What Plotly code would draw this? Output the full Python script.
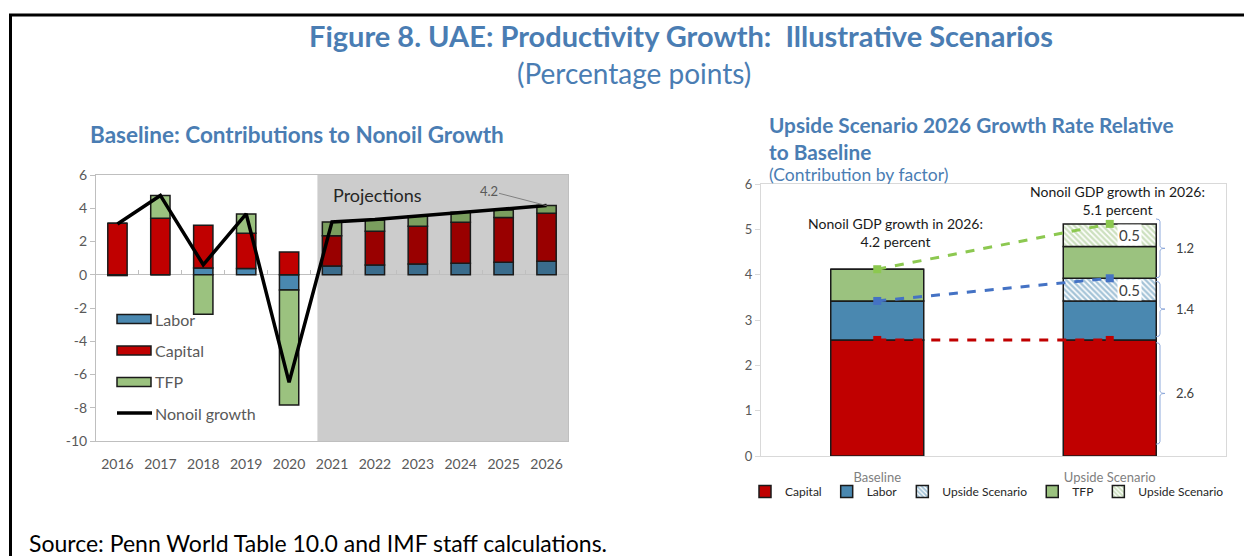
import plotly.graph_objects as go

W, H = 1244, 556

# ---------------- data ----------------
years = ["2016", "2017", "2018", "2019", "2020", "2021", "2022", "2023", "2024", "2025", "2026"]
labor = [-0.05, 0.0, 0.40, 0.37, -0.92, 0.53, 0.59, 0.65, 0.69, 0.75, 0.81]
capital = [3.10, 3.40, 2.57, 2.13, 1.37, 1.81, 2.03, 2.27, 2.47, 2.69, 2.89]
tfp = [0.0, 1.37, -2.38, 1.16, -6.92, 0.84, 0.68, 0.62, 0.60, 0.46, 0.46]
nonoil = [3.05, 4.77, 0.60, 3.66, -6.47, 3.18, 3.33, 3.54, 3.76, 3.93, 4.16]
n_hist = 5
last_label = "4.2"
left_ticks = [-10, -8, -6, -4, -2, 0, 2, 4, 6]

scen_cats = ["Baseline", "Upside Scenario"]
sc_capital = [2.56, 2.56]
sc_labor = [0.86, 0.86]
sc_labor_up = [0.0, 0.5]
sc_tfp = [0.70, 0.70]
sc_tfp_up = [0.0, 0.5]
total_labels = ["4.2 percent", "5.1 percent"]
bracket_labels = ["2.6", "1.4", "1.2"]
up_labels = ["0.5", "0.5"]

# ---------------- styles ----------------
FONT = "Lato"
BLUE_T = "#4A7DB3"
GRAYTXT = "#595959"
C_RED, C_RED_P = "#C00000", "#990000"
C_BLU, C_BLU_P = "#4A88B0", "#3A6C8C"
C_GRN, C_GRN_P = "#9BC27F", "#7A9E5E"
OUT = "#1A1A1A"


def px(x):
    return x / W


def py(y):
    return 1 - y / H


fig = go.Figure()

hist_proj = lambda a, b: [a] * n_hist + [b] * (len(years) - n_hist)

# left chart bars
for name, vals, ch, cp in [("Labor", labor, C_BLU, C_BLU_P),
                           ("Capital", capital, C_RED, C_RED_P),
                           ("TFP", tfp, C_GRN, C_GRN_P)]:
    fig.add_trace(go.Bar(x=years, y=vals, name=name, width=0.45,
                         marker=dict(color=hist_proj(ch, cp), line=dict(color=OUT, width=1.5)),
                         xaxis="x", yaxis="y", showlegend=False))
fig.add_trace(go.Scatter(x=years, y=nonoil, mode="lines", name="Nonoil growth",
                         line=dict(color="black", width=3.5), xaxis="x", yaxis="y",
                         showlegend=False))

# right chart bars
pat = lambda c: dict(shape="\\", fgcolor=c, size=4, solidity=0.6)
right_specs = [
    ("Capital", sc_capital, dict(color=C_RED)),
    ("Labor", sc_labor, dict(color=C_BLU)),
    ("Upside Scenario", sc_labor_up, dict(color="white", pattern=pat(C_BLU))),
    ("TFP", sc_tfp, dict(color=C_GRN)),
    ("Upside Scenario", sc_tfp_up, dict(color="white", pattern=pat(C_GRN))),
]
for name, vals, mk in right_specs:
    mk = dict(mk)
    mk["line"] = dict(color=OUT, width=1.5)
    fig.add_trace(go.Bar(x=scen_cats, y=vals, name=name, width=0.4, marker=mk,
                         xaxis="x2", yaxis="y2", legend="legend2", showlegend=True))

# dashed connector lines
cum_cap = sc_capital
cum_lab = [a + b + c for a, b, c in zip(sc_capital, sc_labor, sc_labor_up)]
cum_tot = [a + b + c for a, b, c in zip(cum_lab, sc_tfp, sc_tfp_up)]
for yv, col in [(cum_cap, "#C00000"), (cum_lab, "#4472C4"), (cum_tot, "#8CC850")]:
    fig.add_trace(go.Scatter(x=scen_cats, y=[yv[0], yv[1]], mode="lines+markers",
                             line=dict(color=col, width=3, dash="dash"),
                             marker=dict(symbol="square", size=8, color=col),
                             xaxis="x2", yaxis="y2", showlegend=False))

# invisible helper so the zero-line tick axis is drawn
fig.add_trace(go.Scatter(x=[0], y=[0], xaxis="x3", yaxis="y", mode="markers",
                         marker=dict(opacity=0), showlegend=False, hoverinfo="skip"))

L0, L1, LT, LB = 96, 568, 175, 441
R0, R1, RT, RB = 761, 1226, 184, 456
zero_px = LT + (LB - LT) * 6 / 16

fig.update_layout(
    width=W, height=H, margin=dict(l=0, r=0, t=0, b=0, autoexpand=False),
    paper_bgcolor="white", plot_bgcolor="white",
    barmode="relative", font=dict(family=FONT, color=GRAYTXT),
    xaxis=dict(domain=[px(L0), px(L1)], type="category", range=[-0.5, 10.5],
               showline=True, mirror=True, linecolor="#BFBFBF", linewidth=1,
               ticks="", tickfont=dict(size=14, color=GRAYTXT), ticklabelstandoff=10,
               showgrid=False, fixedrange=True),
    yaxis=dict(domain=[py(LB), py(LT)], range=[-10, 6],
               tickvals=left_ticks, ticktext=[str(v) for v in left_ticks],
               showline=True, mirror=True, linecolor="#BFBFBF", linewidth=1,
               ticks="outside", ticklen=5, tickcolor="#BFBFBF",
               tickfont=dict(size=14, color=GRAYTXT), showgrid=False,
               zeroline=True, zerolinecolor="#BFBFBF", zerolinewidth=1),
    xaxis3=dict(overlaying="x", anchor="free", position=py(zero_px), range=[-0.5, 10.5],
                tickvals=[i + 0.5 for i in range(10)], ticks="inside", ticklen=5,
                tickcolor="#BFBFBF", showticklabels=False, showline=False, showgrid=False,
                zeroline=False),
    xaxis2=dict(domain=[px(R0), px(R1)], type="category", anchor="y2",
                showline=True, mirror=True, linecolor="#D9D9D9", linewidth=1,
                ticks="", tickfont=dict(size=13, color="#7F7F7F"), ticklabelstandoff=9,
                showgrid=False),
    yaxis2=dict(domain=[py(RB), py(RT)], anchor="x2", range=[0, 6], dtick=1,
                showline=True, mirror=True, linecolor="#D9D9D9", linewidth=1,
                ticks="outside", ticklen=5, tickcolor="#D9D9D9",
                tickfont=dict(size=13, color=GRAYTXT), showgrid=False, zeroline=False),
    legend2=dict(orientation="h", x=px(745), y=py(477), xanchor="left", yanchor="top",
                 font=dict(size=12, color="#262626"), traceorder="normal",
                 itemwidth=30, bgcolor="rgba(0,0,0,0)"),
    showlegend=True,
)

shapes = []
annotations = []

# border of figure
shapes.append(dict(type="line", xref="paper", yref="paper", x0=px(9), x1=1.01, y0=py(15), y1=py(15),
                   line=dict(color="black", width=3)))
shapes.append(dict(type="line", xref="paper", yref="paper", x0=px(10.5), x1=px(10.5), y0=py(15), y1=-0.01,
                   line=dict(color="black", width=3)))

# projection shading
shapes.append(dict(type="rect", xref="x", yref="y domain", x0=4.66, x1=10.5, y0=0, y1=1,
                   fillcolor="#CCCCCC", line=dict(width=0), layer="below"))

# left manual legend
leg_items = [("Labor", C_BLU), ("Capital", C_RED), ("TFP", C_GRN)]
leg_y = [319, 350.5, 382]
for (lab, col), yy in zip(leg_items, leg_y):
    shapes.append(dict(type="rect", xref="paper", yref="paper", x0=px(117), x1=px(151),
                       y0=py(yy + 4.5), y1=py(yy - 4.5), fillcolor=col,
                       line=dict(color=OUT, width=1.5)))
    annotations.append(dict(text=lab, x=px(153), y=py(yy), xref="paper", yref="paper",
                            xanchor="left", yanchor="middle", showarrow=False,
                            font=dict(size=16, color=GRAYTXT)))
shapes.append(dict(type="line", xref="paper", yref="paper", x0=px(117), x1=px(152),
                   y0=py(413), y1=py(413), line=dict(color="black", width=3.5)))
annotations.append(dict(text="Nonoil growth", x=px(153), y=py(413), xref="paper", yref="paper",
                        xanchor="left", yanchor="middle", showarrow=False,
                        font=dict(size=16, color=GRAYTXT)))

# Projections label and 4.2 label
annotations.append(dict(text="Projections", x=px(331), y=py(195), xref="paper", yref="paper",
                        xanchor="left", yanchor="middle", showarrow=False,
                        font=dict(size=18, color="#262626")))
annotations.append(dict(text=last_label, x=len(years) - 1, y=nonoil[-1], xref="x", yref="y",
                        ax=-58, ay=-15, axref="pixel", ayref="pixel", showarrow=True, arrowhead=0,
                        arrowwidth=1, arrowcolor="#808080", font=dict(size=13, color=GRAYTXT)))

# right chart annotations
annotations.append(dict(text="Nonoil GDP growth in 2026:<br>" + total_labels[0], x=px(895), y=py(232),
                        xref="paper", yref="paper", xanchor="center", yanchor="middle",
                        showarrow=False, align="center", font=dict(size=14, color="#1A1A1A")))
annotations.append(dict(text="Nonoil GDP growth in 2026:<br>" + total_labels[1], x=px(1117), y=py(201),
                        xref="paper", yref="paper", xanchor="center", yanchor="middle",
                        showarrow=False, align="center", font=dict(size=14, color="#1A1A1A")))
for lab, yv in [(up_labels[0], cum_lab[1] - sc_labor_up[1] / 2), (up_labels[1], cum_tot[1] - sc_tfp_up[1] / 2)]:
    annotations.append(dict(text=lab, x=1, y=yv, xref="x2", yref="y2", xshift=20,
                            xanchor="center", yanchor="middle", showarrow=False, bgcolor="white",
                            borderpad=1, font=dict(size=15, color="#404040")))

# braces
spans = [(0.26, cum_cap[1] - 0.06), (cum_cap[1] + 0.07, cum_lab[1] - 0.07), (cum_lab[1] + 0.01, cum_tot[1] + 0.11)]
xb, xt, xh = px(1160), px(1165), px(1156)
for (y0, y1), lab in zip(spans, bracket_labels):
    m = (y0 + y1) / 2
    d = 0.06
    path = (f"M {xh},{y1} Q {xb},{y1} {xb},{y1 - d} L {xb},{m + d} Q {xb},{m} {xt},{m} "
            f"Q {xb},{m} {xb},{m - d} L {xb},{y0 + d} Q {xb},{y0} {xh},{y0}")
    shapes.append(dict(type="path", xref="paper", yref="y2", path=path,
                       line=dict(color="#8EA9DB", width=1)))
    annotations.append(dict(text=lab, x=px(1185), y=m, xref="paper", yref="y2",
                            xanchor="center", yanchor="middle",
                            showarrow=False, font=dict(size=13, color="#404040")))


# titles
def ann(text, x, y, size, color=BLUE_T, anchor="center"):
    return dict(text=text, x=px(x), y=py(y), xref="paper", yref="paper", xanchor=anchor,
                yanchor="middle", showarrow=False, font=dict(size=size, color=color))


annotations += [
    ann("<b>Figure 8. UAE: Productivity Growth:  Illustrative Scenarios</b>", 681, 35, 29),
    ann("(Percentage points)", 634, 73, 28),
    ann("<b>Baseline: Contributions to Nonoil Growth</b>", 88, 134, 22.5, anchor="left"),
    ann("<b>Upside Scenario 2026 Growth Rate Relative</b>", 767, 125, 20.8, anchor="left"),
    ann("<b>to Baseline</b>", 767, 151, 20.8, anchor="left"),
    ann("(Contribution by factor)", 767, 174, 17.5, anchor="left"),
    ann("Source: Penn World Table 10.0 and IMF staff calculations.", 27, 543, 23, color="black", anchor="left"),
]

fig.update_layout(shapes=shapes, annotations=annotations)
fig.write_html("out.html", config={"displayModeBar": False},
               post_script="document.body.style.margin='0';document.body.style.overflow='hidden';")
